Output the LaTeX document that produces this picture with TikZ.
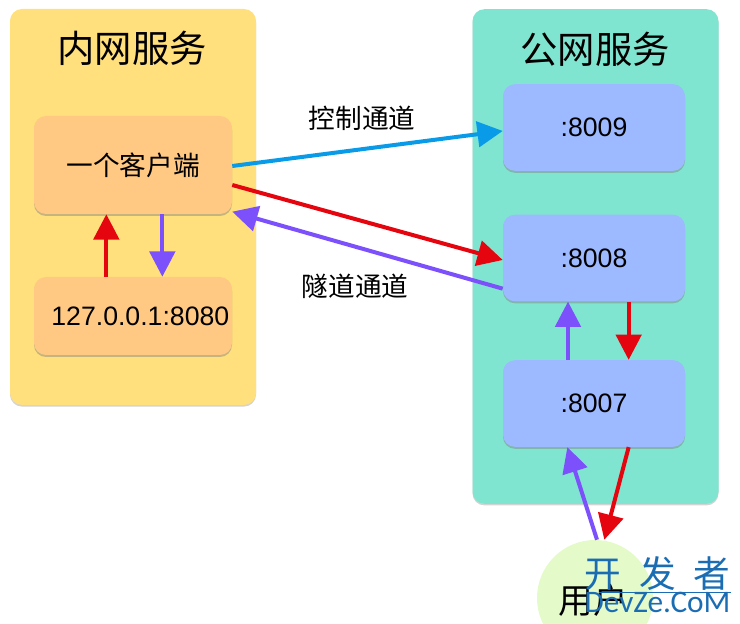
\documentclass[tikz,border=0pt]{standalone}
\usepackage{fontspec}
\setmainfont{Liberation Sans}
\newfontfamily\cjk{Noto Sans CJK SC}
\newfontfamily\stampfont{Carlito}
\usepackage{xcolor}
\usetikzlibrary{arrows.meta,shadows}
\definecolor{panelin}{HTML}{FFE07C}
\definecolor{panelout}{HTML}{80E5D0}
\definecolor{boxin}{HTML}{FFC983}
\definecolor{boxout}{HTML}{9DB9FF}
\definecolor{usergreen}{HTML}{E4FBC9}
\definecolor{linkblue}{HTML}{0A9BE8}
\definecolor{linkred}{HTML}{E4050F}
\definecolor{linkpurple}{HTML}{7C50FA}
\definecolor{stampblue}{HTML}{1B6DB3}

\begin{document}
\begin{tikzpicture}[x=0.75pt,y=-0.75pt]
        \tikzstyle{panel}=[rounded corners=9pt,inner sep=0pt,drop shadow={shadow xshift=0pt,shadow yshift=-1.2pt,opacity=.35}]
        \tikzstyle{place}=[rounded corners=9pt,inner sep=0pt,drop shadow={shadow xshift=0pt,shadow yshift=-1.5pt,opacity=.45}]
        \tikzstyle{inbox}=[place,fill=boxin,minimum width=148.5pt]
        \tikzstyle{outbox}=[place,fill=boxout,minimum width=136.5pt,minimum height=65pt,font=\fontsize{20}{20}\selectfont]
        \tikzstyle{title}=[font=\cjk\fontsize{28}{28}\selectfont]
        \tikzstyle{chan}=[font=\cjk\fontsize{20}{20}\selectfont]
        \tikzstyle{stamp}=[text=stampblue,inner sep=0pt]
        \tikzstyle{link}=[line width=3pt,-{Triangle[length=19pt,width=19pt]}]

        \useasboundingbox (0, 0) rectangle (740, 624);
        \clip (0, 0) rectangle (740, 624);

        \draw node at (133, 207) [panel,fill=panelin,minimum width=184.5pt,minimum height=297pt] (inner) {};
        \draw node at (595.5, 256.5) [panel,fill=panelout,minimum width=184.5pt,minimum height=371pt] (outer) {};
        \draw node at (132, 48) [title] (innertitle) {内网服务};
        \draw node at (595, 49) [title] (outertitle) {公网服务};

        \draw node at (133, 165) [inbox,minimum height=73.5pt,chan] (client) {一个客户端};
        \draw node at (133, 316) [inbox,minimum height=58.5pt,font=\fontsize{20}{20}\selectfont] (local) {\hspace{11pt}127.0.0.1:8080};
        \draw node at (594, 127.5) [outbox] (p8009) {:8009};
        \draw node at (594, 258) [outbox] (p8008) {:8008};
        \draw node at (594, 403.5) [outbox] (p8007) {:8007};
        \draw node at (595, 598) [circle,fill=usergreen,minimum size=87pt,inner sep=0pt] (user) {};
        \draw node at (593, 600) [font=\cjk\fontsize{26}{26}\selectfont] (usertext) {用户};

        \draw [link,linkblue] ([yshift=-0.75pt]client.east) to ([yshift=-2.6pt]p8009.west);
        \draw [link,linkred] ([yshift=-15pt]client.east) to ([yshift=-1.5pt]p8008.west);
        \draw [link,linkpurple] ([yshift=-23pt]p8008.west) to ([yshift=-35pt]client.east);
        \draw [link,linkred] ([xshift=-20pt]local.north) to ([xshift=-20pt]client.south);
        \draw [link,linkpurple] ([xshift=22pt]client.south) to ([xshift=22pt]local.north);
        \draw [link,linkpurple] ([xshift=-19.5pt]p8007.north) to ([xshift=-19.5pt]p8008.south);
        \draw [link,linkred] ([xshift=26pt]p8008.south) to ([xshift=26pt]p8007.north);
        \draw [link,linkpurple] ([xshift=1.5pt]user.north) to ([xshift=-20pt]p8007.south);
        \draw [link,linkred] ([xshift=26pt]p8007.south) to ([xshift=7pt]user.north);

        \draw node at (362, 118) [chan] (ctrl) {控制通道};
        \draw node at (355, 286) [chan] (tunnel) {隧道通道};

        \draw node at (657.5, 574) [stamp,font=\cjk\fontsize{27.5}{28}\selectfont] (stamptop) {开\hspace{13.5pt}发\hspace{13.5pt}者};
        \draw node at (657.5, 602.5) [stamp,font=\stampfont\fontsize{23.5}{24}\selectfont] (stampbottom) {DevZe.CoM};
        \draw [stampblue,line width=0.5pt] ([xshift=11pt]stamptop.west |- stampbottom.north) to (stamptop.east |- stampbottom.north);
    \end{tikzpicture}
\end{document}
